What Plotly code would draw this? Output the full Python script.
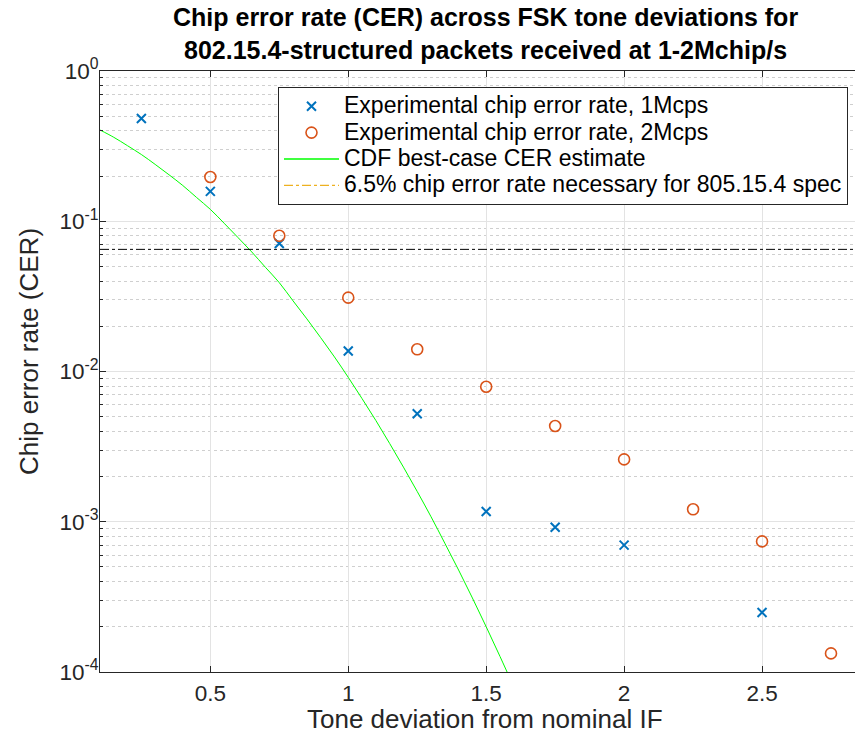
import plotly.graph_objects as go

# ---- data ----
x_1m = [0.25, 0.5, 0.75, 1.0, 1.25, 1.5, 1.75, 2.0, 2.5]
cer_1m = [0.483, 0.158, 0.0711, 0.0137, 0.00524, 0.00117, 0.00092, 0.000699, 0.000249]

x_2m = [0.5, 0.75, 1.0, 1.25, 1.5, 1.75, 2.0, 2.25, 2.5, 2.75]
cer_2m = [0.197, 0.080, 0.031, 0.01405, 0.00792, 0.00434, 0.0026, 0.00121, 0.00074, 0.000133]

x_cdf = [0.10, 0.15, 0.20, 0.25, 0.30, 0.35, 0.40, 0.45, 0.50, 0.55, 0.60, 0.65,
         0.70, 0.75, 0.80, 0.85, 0.90, 0.95, 1.00, 1.05, 1.10, 1.15, 1.20, 1.25,
         1.30, 1.35, 1.40, 1.45, 1.50, 1.55, 1.60]
cer_cdf = [0.405, 0.362, 0.318, 0.278, 0.239, 0.204, 0.173, 0.144, 0.120, 0.097,
           0.078, 0.0625, 0.0493, 0.0390, 0.0295, 0.0224, 0.0168, 0.0125, 0.00914,
           0.0066, 0.00472, 0.00332, 0.00231, 0.00159, 0.00108, 0.00072, 0.000477,
           0.000311, 0.000200, 0.000127, 0.0000797]

x_spec = [0.1, 2.9]
cer_spec = [0.065, 0.065]

x_ticks = [0.5, 1, 1.5, 2, 2.5]
x_ticktext = ["0.5", "1", "1.5", "2", "2.5"]
y_ticks = [1e-4, 1e-3, 1e-2, 1e-1, 1]
y_ticktext = ["10<sup>-4</sup>", "10<sup>-3</sup>", "10<sup>-2</sup>", "10<sup>-1</sup>", "10<sup>0</sup>"]

title_lines = ["Chip error rate (CER) across FSK tone deviations for",
               "802.15.4-structured packets received at 1-2Mchip/s"]
x_title = "Tone deviation from nominal IF"
y_title = "Chip error rate (CER)"
names = ["Experimental chip error rate, 1Mcps",
         "Experimental chip error rate, 2Mcps",
         "CDF best-case CER estimate",
         "6.5% chip error rate necessary for 805.15.4 spec"]

FONT = "Liberation Sans, Arial, Helvetica, sans-serif"
OFF = 8  # page body margin in the browser
W, H = 863 - OFF, 734 - OFF
ML, MR, MT, MB = 100 - OFF, 0, 71 - OFF, 62
PW, PH = W - ML - MR, H - MT - MB


def px_x(img_x):
    return (img_x - OFF - ML) / PW


def px_y(img_y):
    return 1 - (img_y - OFF - MT) / PH


def legend_label(s):
    return '<span style="font-size:23px">' + s + "</span>"


# minor tick positions (2..9 within each decade)
minor_vals = [m * 10.0 ** e for e in range(-4, 0) for m in range(2, 10)]

fig = go.Figure()
fig.add_trace(go.Scatter(
    x=x_cdf, y=cer_cdf, mode="lines", name=names[2],
    line=dict(color="#00FF00", width=1, shape="spline"), showlegend=False))
fig.add_trace(go.Scatter(
    x=x_spec, y=cer_spec, mode="lines", name=names[3],
    line=dict(color="black", width=1, dash="dashdot"), showlegend=False))
fig.add_trace(go.Scatter(
    x=x_1m, y=cer_1m, mode="markers", name=legend_label(names[0]),
    marker=dict(symbol="x-thin-open", size=9, color="#0072BD",
                line=dict(color="#0072BD", width=2))))
fig.add_trace(go.Scatter(
    x=x_2m, y=cer_2m, mode="markers", name=legend_label(names[1]),
    marker=dict(symbol="circle-open", size=11, color="#D95319",
                line=dict(color="#D95319", width=1.6))))
# legend entries for the lines
fig.add_trace(go.Scatter(
    x=[None], y=[None], mode="lines", name=legend_label(names[2]),
    line=dict(color="#00FF00", width=1.5)))
fig.add_trace(go.Scatter(
    x=[None], y=[None], mode="lines", name=legend_label(names[3]),
    line=dict(color="#EDB120", width=1.2, dash="dashdot")))

annotations = [
    dict(text="<b>" + "<br>".join(title_lines) + "</b>", showarrow=False,
         xref="paper", yref="paper", x=px_x(485), y=px_y(33),
         xanchor="center", yanchor="middle",
         font=dict(family=FONT, size=25, color="black")),
    dict(text=x_title, showarrow=False, xref="paper", yref="paper",
         x=px_x(485), y=px_y(719), xanchor="center", yanchor="middle",
         font=dict(family=FONT, size=26, color="#262626")),
    dict(text=y_title, showarrow=False, xref="paper", yref="paper", textangle=-90,
         x=px_x(29), y=px_y(352), xanchor="center", yanchor="middle",
         font=dict(family=FONT, size=26, color="#262626")),
]

fig.update_layout(
    width=W, height=H,
    margin=dict(l=ML, r=MR, t=MT, b=MB),
    paper_bgcolor="white", plot_bgcolor="white",
    font=dict(family=FONT, color="#262626"),
    annotations=annotations,
    legend=dict(
        x=px_x(278), y=px_y(87), xanchor="left", yanchor="top",
        bgcolor="white", bordercolor="#262626", borderwidth=1,
        font=dict(family=FONT, size=18, color="black"),
        tracegroupgap=0, itemwidth=55),
    showlegend=True,
)

fig.update_xaxes(
    type="linear", range=[0.1, 2.866],
    tickvals=x_ticks, ticktext=x_ticktext,
    ticks="inside", ticklen=6, tickcolor="#262626",
    showline=True, linecolor="#262626", linewidth=1, mirror="ticks",
    showgrid=True, gridcolor="#E3E3E3", gridwidth=1,
    zeroline=False, ticklabelstandoff=1,
    tickfont=dict(family=FONT, size=22.5, color="#262626"),
    automargin=False,
)
fig.update_yaxes(
    type="log", range=[-4, 0],
    tickvals=y_ticks, ticktext=y_ticktext,
    ticks="inside", ticklen=6, tickcolor="#262626",
    showline=True, linecolor="#262626", linewidth=1, mirror=False,
    showgrid=True, gridcolor="#E3E3E3", gridwidth=1,
    zeroline=False, ticklabelstandoff=-4,
    minor=dict(tickvals=minor_vals, ticks="inside", ticklen=3, tickcolor="#262626",
               showgrid=True, gridcolor="#CFCFCF", griddash="dot", gridwidth=1),
    tickfont=dict(family=FONT, size=22.5, color="#262626"),
    automargin=False,
)

fig.write_html("out.html")
